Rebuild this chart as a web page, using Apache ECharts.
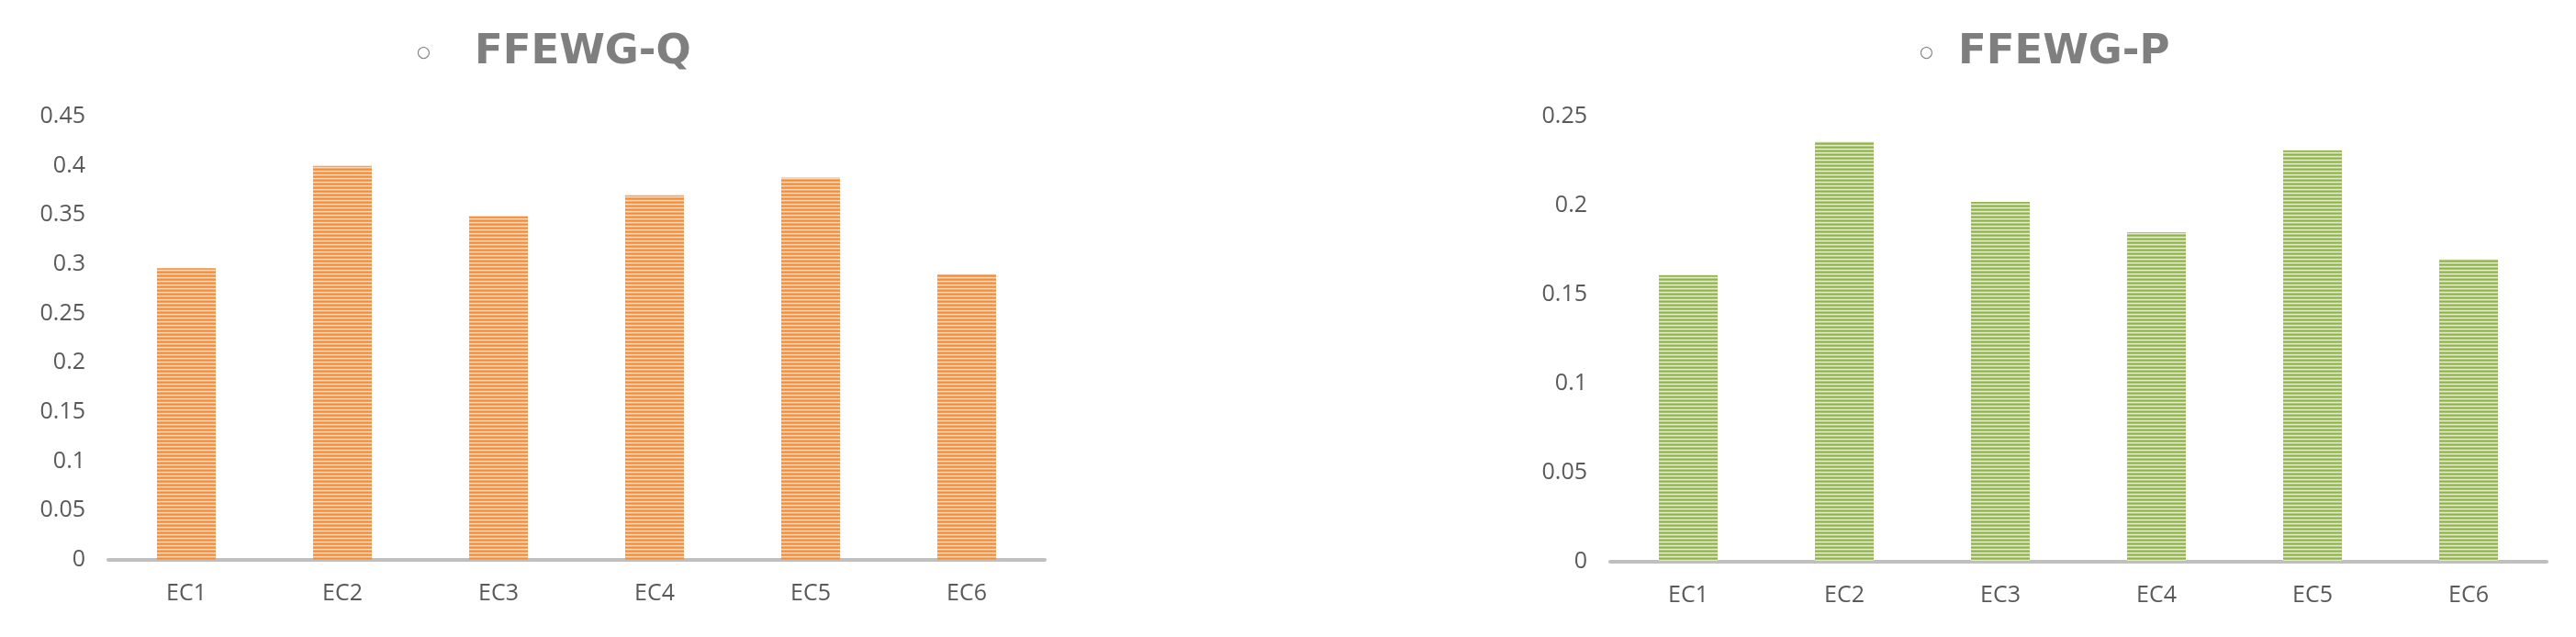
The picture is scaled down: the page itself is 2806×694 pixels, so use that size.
<!DOCTYPE html>
<html>
<head>
<meta charset="utf-8">
<script src="https://cdn.jsdelivr.net/npm/echarts@6/dist/echarts.min.js"></script>
<style>
  html, body { margin: 0; padding: 0; background: #fff; }
  #chart { width: 2806px; height: 694px; }
</style>
</head>
<body>
<div id="chart"></div>
<script>
const categories = ["EC1", "EC2", "EC3", "EC4", "EC5", "EC6"];
const qValues = [0.296, 0.4, 0.349, 0.37, 0.388, 0.29];
const pValues = [0.161, 0.236, 0.202, 0.185, 0.231, 0.17];
const qTitle = "FFEWG-Q";
const pTitle = "FFEWG-P";

const labelFont = "'Open Sans', 'Liberation Sans', sans-serif";
const labelColor = "#595959";
const titleColor = "#7f7f7f";

// horizontal stripe fill, like the office "narrow horizontal" pattern
function stripes(rows) {
  const c = document.createElement("canvas");
  c.width = 8;
  c.height = rows.length;
  const ctx = c.getContext("2d");
  rows.forEach((col, i) => {
    ctx.fillStyle = col;
    ctx.fillRect(0, i, 8, 1);
  });
  return { image: c, repeat: "repeat" };
}

const orangeFill = stripes(["#f58b32", "#f7a058", "#fcd8b8", "#f8ad6f"]);
const greenFill = stripes(["#8fb247", "#a9c66f", "#e2ecca", "#b3cc7f"]);

const fmt = (v) => String(+v.toFixed(2));

function title(text, left) {
  return {
    text,
    left,
    top: 30,
    textStyle: {
      fontFamily: "'DejaVu Sans', sans-serif",
      fontSize: 45,
      fontWeight: "bold",
      color: titleColor,
    },
  };
}

function bullet(left) {
  return {
    text: "○",
    left,
    top: 44,
    textStyle: { fontFamily: "'DejaVu Sans', sans-serif", fontSize: 17, fontWeight: "normal", color: titleColor },
  };
}

function xAxis(gridIndex) {
  return {
    type: "category",
    gridIndex,
    data: categories,
    axisLine: { lineStyle: { color: "#bfbfbf", width: 4 } },
    axisTick: { show: false },
    axisLabel: { color: labelColor, fontSize: 25, fontFamily: labelFont, margin: 24 },
  };
}

function yAxis(gridIndex, max) {
  return {
    type: "value",
    gridIndex,
    min: 0,
    max,
    interval: 0.05,
    axisLine: { show: false },
    axisTick: { show: false },
    splitLine: { show: false },
    axisLabel: { color: labelColor, fontSize: 25, fontFamily: labelFont, margin: 25, formatter: fmt },
  };
}

const chart = echarts.init(document.getElementById("chart"), null, { renderer: "canvas" });
chart.setOption({
  animation: false,
  title: [bullet(449), title(qTitle, 512), bullet(2086), title(pTitle, 2128)],
  grid: [
    { left: 118, right: 1668, top: 127, bottom: 84 },
    { left: 1754, right: 32, top: 127, bottom: 82 },
  ],
  xAxis: [xAxis(0), xAxis(1)],
  yAxis: [yAxis(0, 0.45), yAxis(1, 0.25)],
  series: [
    { type: "bar", xAxisIndex: 0, yAxisIndex: 0, data: qValues, barWidth: 64, itemStyle: { color: orangeFill } },
    { type: "bar", xAxisIndex: 1, yAxisIndex: 1, data: pValues, barWidth: 64, itemStyle: { color: greenFill } },
  ],
});
</script>
</body>
</html>
